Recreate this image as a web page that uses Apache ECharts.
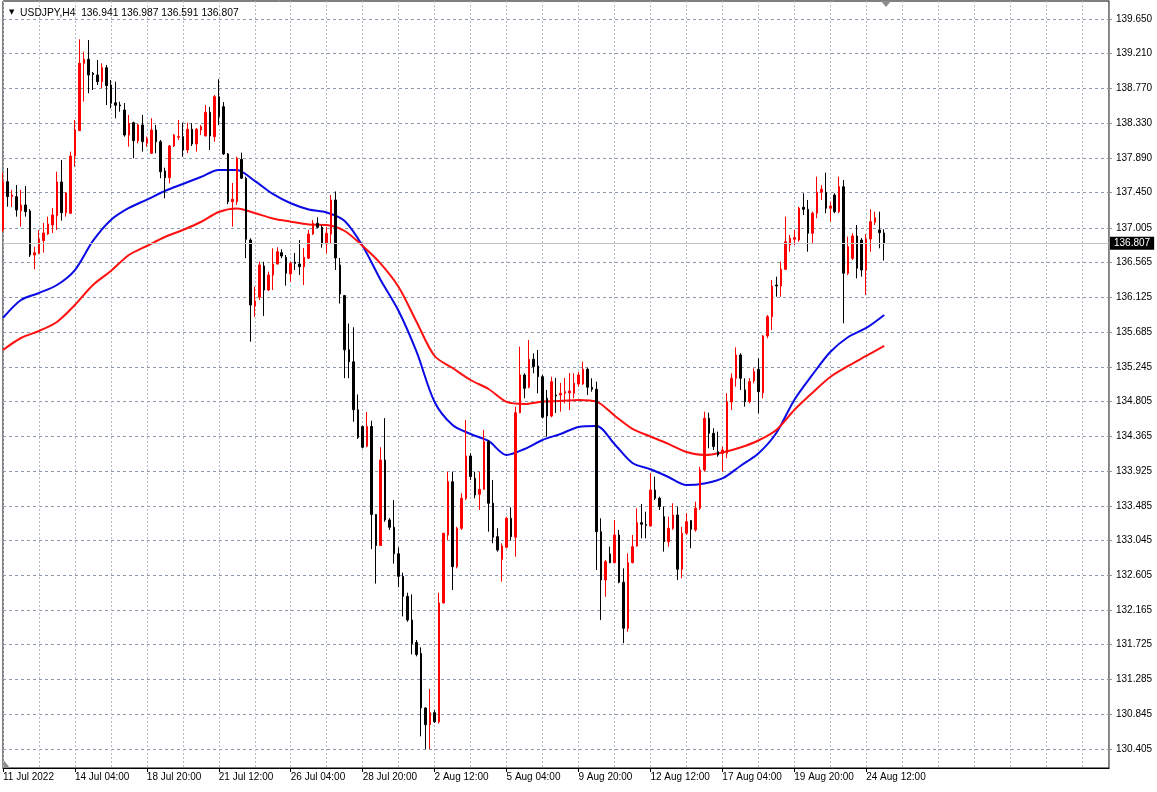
<!DOCTYPE html>
<html><head><meta charset="utf-8">
<script src="https://cdn.jsdelivr.net/npm/echarts@6/dist/echarts.min.js"></script>
<style>html,body{margin:0;padding:0;background:#fff}#c{width:1157px;height:792px}</style>
</head><body><div id="c"></div>
<script>
// ---- chart values ----
const symbolTitle = 'USDJPY,H4';
const opens = [136.978,137.590,137.400,137.400,137.222,137.295,137.219,136.661,136.683,136.843,136.927,137.041,137.159,137.586,137.197,137.190,137.915,138.236,139.089,139.140,138.963,138.941,138.856,139.034,138.814,138.590,138.561,138.498,138.181,138.337,138.105,138.308,138.076,137.949,138.245,138.096,137.725,137.640,138.042,138.152,138.160,137.991,138.253,138.067,138.245,138.169,138.469,138.160,138.666,138.540,137.941,137.336,137.336,137.873,137.633,136.851,136.015,136.126,136.522,136.218,136.408,136.547,136.691,136.632,136.421,136.573,136.547,136.513,136.620,136.927,137.063,137.012,136.801,136.927,137.358,136.535,136.147,135.461,135.309,134.701,134.489,134.240,134.489,133.375,132.982,134.065,133.305,133.213,132.877,132.591,132.338,132.039,131.754,131.614,130.924,130.713,130.865,130.749,132.255,133.115,133.790,132.714,133.200,133.580,134.116,133.833,133.631,133.694,134.297,133.517,133.094,132.807,132.959,133.327,133.086,134.664,135.142,134.986,135.340,135.256,135.120,134.847,134.622,134.888,134.888,134.910,134.914,134.910,135.028,135.028,135.214,134.986,134.961,133.157,132.545,132.875,132.764,133.115,132.516,131.934,132.764,132.976,133.271,133.248,133.229,133.685,133.580,133.347,133.030,133.200,133.369,132.681,133.137,133.296,133.179,133.453,133.938,134.593,134.403,134.170,134.150,134.150,134.800,135.100,135.395,134.952,134.804,135.066,135.214,134.917,135.636,135.880,136.281,136.269,136.480,136.788,136.860,136.851,137.266,137.240,136.936,137.190,137.456,137.456,137.253,137.421,137.210,137.526,136.430,136.620,136.902,136.851,136.471,136.864,137.076,136.978,136.941];
const highs = [137.700,137.763,137.485,137.548,137.485,137.535,137.244,136.767,136.978,137.067,137.147,137.257,137.716,137.865,137.459,137.970,138.371,139.393,139.236,139.384,138.979,139.131,139.089,139.068,138.878,138.856,138.603,138.586,138.435,138.350,138.320,138.435,138.160,138.393,138.308,138.118,137.767,138.055,138.194,138.371,138.337,138.337,138.329,138.270,138.308,138.561,138.536,138.688,138.887,138.599,137.953,137.573,137.906,137.957,137.653,136.873,136.260,136.577,136.577,136.450,136.746,136.759,136.734,136.661,136.577,136.687,136.851,136.750,136.978,137.105,137.139,137.041,137.012,137.421,137.466,136.623,136.155,135.793,135.746,134.895,134.502,134.673,134.563,133.381,134.226,134.595,133.330,133.558,132.959,132.638,132.384,132.362,131.785,131.693,130.933,131.165,130.899,132.384,133.141,133.917,133.917,133.220,133.643,134.572,134.150,133.917,133.917,134.445,134.318,133.812,133.200,133.010,133.347,133.466,134.740,135.500,135.163,135.585,135.416,135.458,135.142,134.952,135.120,135.104,135.040,135.104,135.167,135.163,135.183,135.310,135.234,135.100,135.057,133.327,132.799,132.967,133.305,133.179,132.693,132.883,133.115,133.453,133.508,133.410,133.897,133.854,133.600,133.474,133.347,133.517,133.474,133.220,133.390,133.305,133.537,133.980,134.677,134.664,134.467,134.424,134.234,134.910,135.163,135.492,135.416,135.100,135.100,135.226,135.353,135.648,135.902,136.345,136.387,136.577,137.147,136.915,136.978,137.273,137.443,137.358,137.210,137.653,137.548,137.704,137.337,137.443,137.653,137.611,136.893,136.936,137.041,136.877,136.927,137.240,137.210,137.210,136.987];
const lows = [136.953,137.273,137.269,137.147,137.020,137.147,136.636,136.480,136.674,136.691,136.915,136.940,136.978,137.096,137.147,137.181,137.780,138.232,138.603,138.709,138.751,138.814,138.773,138.561,138.519,138.393,138.476,138.160,138.033,137.886,138.076,137.970,138.033,137.941,137.949,137.633,137.380,137.570,138.029,138.118,137.906,137.949,138.042,137.970,138.181,138.162,137.991,138.096,138.308,137.928,137.304,137.020,137.295,137.624,136.620,135.563,135.880,136.091,135.889,136.206,136.218,136.541,136.620,136.273,136.323,136.471,136.408,136.281,136.611,136.915,137.000,136.754,136.683,136.810,136.471,136.046,135.101,135.101,134.549,134.332,134.212,134.226,132.937,132.500,132.976,133.282,133.179,132.753,132.453,132.084,132.016,131.602,131.578,130.565,130.404,130.405,130.734,130.727,132.248,133.052,132.419,132.693,133.179,133.558,133.812,133.580,133.432,133.685,133.157,133.010,132.904,132.524,132.947,133.043,132.840,134.656,134.847,134.973,135.163,134.910,134.593,134.360,134.606,134.660,134.677,134.783,134.698,134.847,134.993,135.015,134.888,134.930,132.672,132.039,132.334,132.757,132.757,132.504,131.744,131.890,132.757,132.967,133.073,133.073,133.220,133.558,133.432,132.904,132.967,133.179,132.545,132.567,133.115,132.947,133.157,133.432,133.917,134.213,134.192,134.107,133.917,134.087,134.698,134.993,134.952,134.740,134.783,135.037,134.656,134.847,135.606,135.712,136.133,136.133,136.471,136.703,136.788,136.830,137.168,136.703,136.810,137.126,137.358,137.190,137.083,137.190,137.190,135.796,136.408,136.598,136.366,136.387,136.155,136.703,137.041,136.746,136.591];
const closes = [137.590,137.400,137.421,137.231,137.295,137.210,136.661,136.691,136.864,136.940,137.054,137.168,137.586,137.197,137.447,137.915,138.245,139.089,139.140,138.941,138.947,138.856,139.034,138.806,138.583,138.557,138.549,138.181,138.329,138.109,138.308,138.096,138.131,138.245,138.096,137.716,137.640,138.042,138.181,138.160,137.991,138.253,138.067,138.253,138.286,138.469,138.169,138.666,138.413,137.941,137.336,137.367,137.886,137.633,136.860,136.028,136.079,136.535,136.218,136.408,136.547,136.703,136.649,136.430,136.556,136.554,136.513,136.632,136.927,137.063,137.012,136.801,136.936,137.358,136.623,136.167,135.461,135.309,134.701,134.350,134.226,134.489,133.375,132.982,134.065,133.305,133.213,132.877,132.591,132.338,132.039,131.740,131.602,130.924,130.713,130.865,130.749,132.255,133.137,133.790,132.714,133.200,133.580,134.116,133.854,133.622,133.694,134.297,133.517,133.086,132.925,132.976,133.327,133.094,134.664,135.142,134.973,135.340,135.247,135.120,134.606,134.622,135.057,134.876,134.910,134.930,134.939,135.037,135.142,135.214,134.986,134.961,133.157,132.545,132.777,132.764,133.115,132.516,131.934,132.764,132.967,133.271,133.251,133.236,133.685,133.580,133.474,133.030,133.200,133.369,132.681,133.137,133.284,133.187,133.453,133.938,134.593,134.403,134.234,134.128,134.192,134.804,135.100,135.395,135.100,134.804,135.057,135.183,134.930,135.636,135.880,136.269,136.269,136.480,136.830,136.873,136.881,137.253,137.240,136.936,137.190,137.456,137.494,137.253,137.282,137.210,137.526,136.430,136.767,136.902,136.493,136.471,136.864,137.083,137.134,136.944,136.807];
// moving averages, read every 4 bars
const maIndex = [0,4,8,12,16,20,24,28,32,36,40,44,48,52,56,60,64,68,72,76,80,84,88,92,96,100,104,108,112,116,120,124,128,132,136,140,144,148,152,156,160,164,168,172,176,180,184,188,192,196];
const maBlue = [135.864,136.091,136.180,136.281,136.471,136.839,137.105,137.257,137.362,137.472,137.561,137.649,137.738,137.738,137.599,137.434,137.316,137.238,137.200,137.092,136.775,136.345,135.952,135.433,134.800,134.508,134.394,134.306,134.128,134.204,134.318,134.394,134.483,134.496,134.268,134.027,133.947,133.850,133.748,133.768,133.831,133.989,134.147,134.407,134.825,135.142,135.433,135.623,135.737,135.902];
const maRed = [135.458,135.610,135.699,135.813,136.028,136.281,136.459,136.661,136.775,136.889,136.978,137.079,137.206,137.250,137.193,137.124,137.083,137.048,137.041,136.965,136.775,136.553,136.256,135.813,135.382,135.230,135.078,134.964,134.800,134.774,134.806,134.812,134.825,134.804,134.629,134.458,134.363,134.268,134.166,134.128,134.160,134.223,134.312,134.445,134.698,134.914,135.116,135.256,135.382,135.509];
// axis tick labels
const timeTickLabels = ['11 Jul 2022','14 Jul 04:00','18 Jul 20:00','21 Jul 12:00','26 Jul 04:00','28 Jul 20:00','2 Aug 12:00','5 Aug 04:00','9 Aug 20:00','12 Aug 12:00','17 Aug 04:00','19 Aug 20:00','24 Aug 12:00'];
const priceTickLabels = ['130.405','130.845','131.285','131.725','132.165','132.605','133.045','133.485','133.925','134.365','134.805','135.245','135.685','136.125','136.565','137.005','137.450','137.890','138.330','138.770','139.210','139.650'];

// ---- categories: H4 bar times (weekends skipped), plus empty shift space on the right ----
const TOTAL_SLOTS = 247, LABEL_EVERY = 16, GRID_EVERY = 8;
const categories = [];
(function(){
  let t = Date.UTC(2022, 6, 11, 12);
  const mon = ['Jan','Feb','Mar','Apr','May','Jun','Jul','Aug','Sep','Oct','Nov','Dec'];
  while (categories.length < TOTAL_SLOTS) {
    const d = new Date(t);
    const wd = d.getUTCDay();
    if (wd === 6 || wd === 0) { t += 4 * 3600e3; continue; }
    categories.push(d.getUTCDate() + ' ' + mon[d.getUTCMonth()] + ' ' + String(d.getUTCHours()).padStart(2,'0') + ':00');
    t += 4 * 3600e3;
  }
})();

const candles = opens.map((o, i) => [o, closes[i], lows[i], highs[i]]);
const blueData = maIndex.map((k, j) => [k, maBlue[j]]);
const redData = maIndex.map((k, j) => [k, maRed[j]]);
const lastClose = closes[closes.length - 1];
const lastBar = closes.length - 1;

const FONT = 'Liberation Sans, Arial, sans-serif';
const chart = echarts.init(document.getElementById('c'), null, {renderer: 'canvas'});
chart.setOption({
  animation: false,
  backgroundColor: '#ffffff',
  title: {
    text: '{a|\u25BC}  {b|' + symbolTitle + '  ' + [opens[lastBar], highs[lastBar], lows[lastBar], closes[lastBar]].map(v => v.toFixed(3)).join(' ') + '}',
    left: 4, top: 3,
    textStyle: {
      fontSize: 10.3, fontWeight: 'normal', color: '#000', fontFamily: FONT,
      rich: {
        a: {fontSize: 7, color: '#000', fontFamily: 'DejaVu Sans', padding: [0, 0, 1, 0]},
        b: {fontSize: 10.3, color: '#000', fontFamily: FONT}
      }
    }
  },
  grid: {left: 2, right: 48, top: 1, bottom: 24, show: true, borderColor: '#000', borderWidth: 1, backgroundColor: 'transparent'},
  xAxis: {
    type: 'category', data: categories, boundaryGap: false,
    axisLine: {show: true, lineStyle: {color: '#000', width: 1}},
    axisTick: {show: true, length: 4, lineStyle: {color: '#000'},
      interval: (i) => i % LABEL_EVERY === 0 && i / LABEL_EVERY < timeTickLabels.length},
    axisLabel: {
      interval: (i) => i % LABEL_EVERY === 0 && i / LABEL_EVERY < timeTickLabels.length,
      formatter: (v, i) => timeTickLabels[i / LABEL_EVERY] || '',
      align: 'left', margin: 4, fontSize: 10, color: '#000', fontFamily: FONT
    },
    splitLine: {show: true, interval: (i) => i % GRID_EVERY === 0,
      lineStyle: {color: '#b4bcc8', type: [2, 2], width: 1}}
  },
  yAxis: {
    type: 'value', position: 'right', min: 130.164, max: 139.878, scale: true,
    axisLine: {show: true, lineStyle: {color: '#909090'}},
    axisTick: {show: true, length: 3, lineStyle: {color: '#909090'}, customValues: priceTickLabels.map(Number)},
    axisLabel: {customValues: priceTickLabels.map(Number), formatter: (v) => v.toFixed(3),
      margin: 7, fontSize: 10, color: '#000', fontFamily: FONT},
    splitLine: {show: true, lineStyle: {color: '#8c99ad', type: [3, 3], width: 1}}
  },
  graphic: [
    {type: 'polygon', shape: {points: [[881, 1], [891, 1], [886, 7]]}, style: {fill: '#8c8c8c'}},
    {type: 'polygon', shape: {points: [[2, 758], [2, 768], [10, 768]]}, style: {fill: '#8c8c8c'}}
  ],
  series: [
    {
      type: 'line', name: 'MA fast', data: blueData, showSymbol: false, smooth: 0.3,
      lineStyle: {color: '#0a0ae6', width: 2}, z: 3, silent: true
    },
    {
      type: 'line', name: 'MA slow', data: redData, showSymbol: false, smooth: 0.3,
      lineStyle: {color: '#ff1010', width: 2}, z: 3, silent: true
    },
    {
      type: 'candlestick', name: 'USDJPY', data: candles, barWidth: 2, clip: true, z: 4,
      itemStyle: {color: '#ff0000', color0: '#000000', borderColor: '#ff0000', borderColor0: '#000000', borderWidth: 1},
      markLine: {
        silent: true, symbol: ['none', 'none'], animation: false,
        lineStyle: {color: '#c4c4c4', type: 'solid', width: 1},
        label: {show: true, position: 'end', distance: 1, formatter: () => lastClose.toFixed(3),
          backgroundColor: '#000', color: '#fff', padding: [2, 4, 1, 4], fontSize: 10, fontFamily: FONT},
        data: [{yAxis: lastClose}]
      }
    }
  ]
});
</script></body></html>
